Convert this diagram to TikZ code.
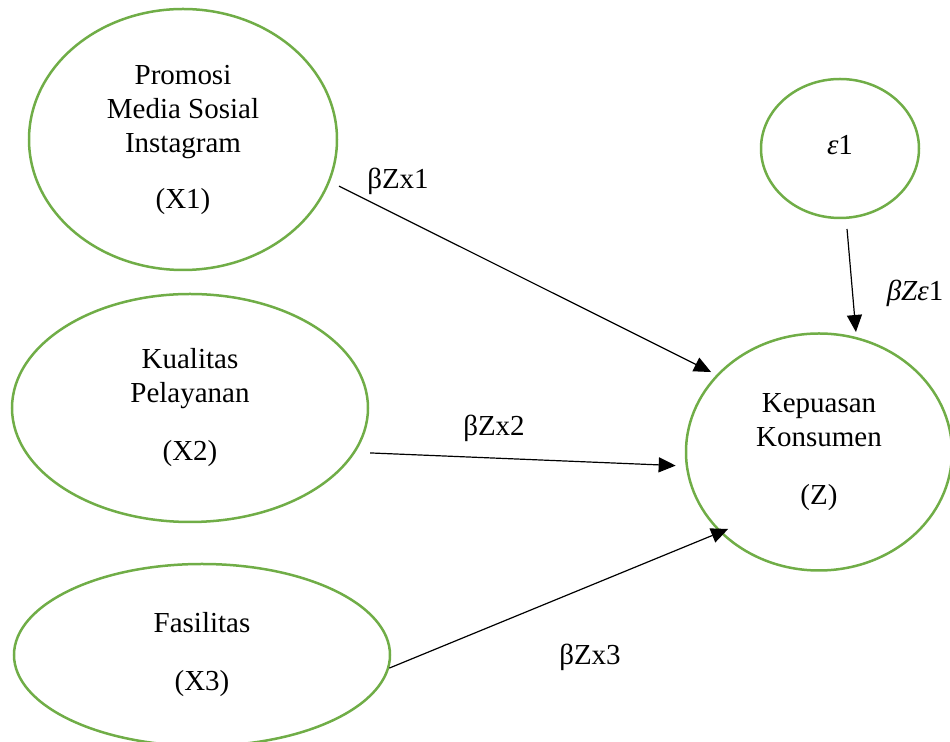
\documentclass[tikz,border=0pt]{standalone}
\usepackage{fontspec}
\setmainfont{Liberation Serif}
\usetikzlibrary{arrows.meta,shapes.geometric}
\definecolor{hijau}{HTML}{70AD47}
\begin{document}
\begin{tikzpicture}[x=0.5pt,y=-0.5pt,>={Triangle[length=8.5pt,width=7.5pt]}]
\tikzset{VarStyle/.style={ellipse,draw=hijau,line width=1.25pt,align=center,inner sep=0pt,font=\fontsize{14.5}{17}\selectfont},
EdgeStyle/.style={->,black,line width=0.6pt},
LabelStyle/.style={font=\fontsize{14.5}{17}\selectfont,inner sep=0pt}}
\useasboundingbox (0,0) rectangle (950,742);
\node[VarStyle,minimum width=154pt,minimum height=130.5pt](X1) at (183,139.5) {Promosi\\Media Sosial\\Instagram\\[11pt](X1)};
\node[VarStyle,minimum width=178pt,minimum height=114pt](X2) at (190,408) {Kualitas\\Pelayanan\\[12pt](X2)};
\node[VarStyle,minimum width=188pt,minimum height=91pt](X3) at (202,655) {Fasilitas\\[12pt](X3)};
\node[VarStyle,minimum width=133pt,minimum height=118.5pt](Z) at (819,452) {Kepuasan\\Konsumen\\[12pt](Z)};
\node[VarStyle,minimum width=79pt,minimum height=69.5pt](E1) at (840,148.5) {\raisebox{4pt}{\textit{ε}1}};
\draw[EdgeStyle,shorten <=5pt,shorten >=3pt] (X1.-16.4) -- (Z.143.6);
\draw[EdgeStyle,shorten <=7.3pt,shorten >=5pt] (X2.-15.8) -- (Z.186.4);
\draw[EdgeStyle,shorten >=-4.6pt] (X3.-4) -- (Z.219.1);
\draw[EdgeStyle,shorten <=5pt,shorten >=2.5pt] (E1.-85) -- (Z.72.7);
\node[LabelStyle](L1) at (398,181) {βZx1};
\node[LabelStyle](L2) at (494,428) {βZx2};
\node[LabelStyle](L3) at (590,657) {βZx3};
\node[LabelStyle](L4) at (915,293) {\textit{βZε}1};
\end{tikzpicture}
\end{document}
